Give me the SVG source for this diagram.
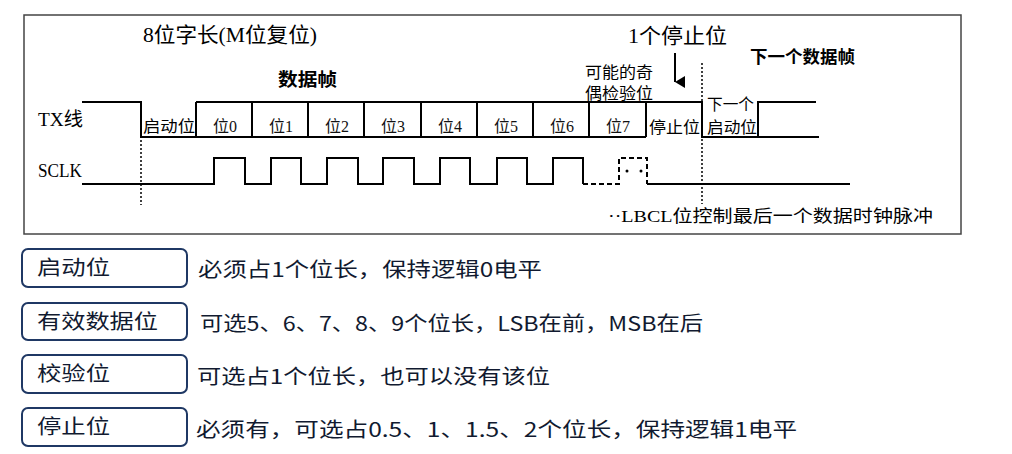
<svg xmlns="http://www.w3.org/2000/svg" width="1012" height="454" viewBox="0 0 1012 454">
<style>
.sig{fill:none;stroke:#000;stroke-width:2}
.dash{fill:none;stroke:#000;stroke-width:2;stroke-dasharray:5,3}
.dot{fill:none;stroke:#000;stroke-width:1.5;stroke-dasharray:2,2}
.t{font-family:"Liberation Serif","Noto Sans CJK SC",serif;fill:#000}
.b{font-weight:bold}
.lb{fill:#fff;stroke:#1f3864;stroke-width:2}
.lt{font-family:"Noto Sans CJK SC","Liberation Sans",sans-serif;font-size:20px;fill:#111a30}
.bit{font-family:"Liberation Serif","Noto Sans CJK SC",serif;font-size:16px;text-anchor:middle;fill:#111}
</style>
<defs>
<marker id="ah" markerWidth="12" markerHeight="10" refX="6" refY="10" orient="auto" markerUnits="userSpaceOnUse"><path d="M0,0 L12,0 L6,10 Z" fill="#000"/></marker>
</defs>
<rect id="frame" x="24" y="15" width="937" height="219" fill="#fff" stroke="#444" stroke-width="1.5"/>
<g id="titles">
<text class="t" x="143" y="42" font-size="21" textLength="174" lengthAdjust="spacingAndGlyphs">8位字长(M位复位)</text>
<text class="t b" x="278" y="86" font-size="18" textLength="59" lengthAdjust="spacingAndGlyphs">数据帧</text>
<text class="t" x="628" y="43" font-size="21" textLength="99" lengthAdjust="spacingAndGlyphs">1个停止位</text>
<text class="t b" x="750" y="63" font-size="17" textLength="105" lengthAdjust="spacingAndGlyphs">下一个数据帧</text>
<text class="t" x="585" y="78" font-size="16" textLength="68" lengthAdjust="spacingAndGlyphs">可能的奇</text>
<text class="t" x="585" y="99" font-size="16" textLength="68" lengthAdjust="spacingAndGlyphs">偶检验位</text>
<text class="t" x="38" y="126" font-size="19" textLength="45" lengthAdjust="spacingAndGlyphs">TX线</text>
<text class="t" x="38" y="177" font-size="18" textLength="44" lengthAdjust="spacingAndGlyphs">SCLK</text>
<text class="t" x="608" y="222" font-size="17" textLength="325" lengthAdjust="spacingAndGlyphs">··LBCL位控制最后一个数据时钟脉冲</text>
</g>
<g id="tx">
<path class="sig" d="M82,102 H141 V137 H646 M196,102 H702 V137 H819 M758,137 V102 H816"/>
<path class="sig" d="M196,102 V137 M252,102 V137 M308,102 V137 M364,102 V137 M421,102 V137 M477,102 V137 M533,102 V137 M589,102 V137 M646,102 V137"/>
<text class="t" x="143" y="132" font-size="16" textLength="52" lengthAdjust="spacingAndGlyphs">启动位</text>
<text class="bit" x="225" y="132">位0</text>
<text class="bit" x="281" y="132">位1</text>
<text class="bit" x="337" y="132">位2</text>
<text class="bit" x="393" y="132">位3</text>
<text class="bit" x="450" y="132">位4</text>
<text class="bit" x="506" y="132">位5</text>
<text class="bit" x="562" y="132">位6</text>
<text class="bit" x="618" y="132">位7</text>
<text class="t" x="649" y="133" font-size="16" textLength="51" lengthAdjust="spacingAndGlyphs">停止位</text>
<text class="t" x="707" y="110" font-size="16" textLength="47" lengthAdjust="spacingAndGlyphs">下一个</text>
<text class="t" x="707" y="133" font-size="16" textLength="50" lengthAdjust="spacingAndGlyphs">启动位</text>
</g>
<g id="sclk">
<path class="sig" d="M82,184 H214 V158 H245 V184 H271 V158 H301 V184 H327 V158 H358 V184 H383 V158 H414 V184 H440 V158 H470 V184 H497 V158 H527 V184 H553 V158 H583 V184"/>
<path class="dash" d="M583,184 H619 V158 H647 V184"/>
<path class="sig" d="M647,184 H850"/>
<circle cx="627" cy="171" r="1.5" fill="#000"/>
<circle cx="641" cy="171" r="1.5" fill="#000"/>
</g>
<g id="connectors">
<line class="dot" x1="141" y1="140" x2="141" y2="205"/>
<line class="dot" x1="702" y1="63" x2="702" y2="204"/>
<line x1="675" y1="53" x2="675" y2="82" stroke="#000" stroke-width="2" marker-end="url(#ah)"/>
</g>
<g id="legend-start">
<rect class="lb" x="22" y="249" width="165" height="38" rx="6"/>
<text class="lt" x="37" y="275" textLength="73" lengthAdjust="spacingAndGlyphs">启动位</text>
<text class="lt" x="198" y="277" textLength="344" lengthAdjust="spacingAndGlyphs">必须占1个位长，保持逻辑0电平</text>
</g>
<g id="legend-data">
<rect class="lb" x="22" y="303" width="165" height="37" rx="6"/>
<text class="lt" x="37" y="329" textLength="121" lengthAdjust="spacingAndGlyphs">有效数据位</text>
<text class="lt" x="200" y="331" textLength="503" lengthAdjust="spacingAndGlyphs">可选5、6、7、8、9个位长，LSB在前，MSB在后</text>
</g>
<g id="legend-parity">
<rect class="lb" x="22" y="355" width="165" height="38" rx="6"/>
<text class="lt" x="37" y="381" textLength="73" lengthAdjust="spacingAndGlyphs">校验位</text>
<text class="lt" x="197" y="384" textLength="353" lengthAdjust="spacingAndGlyphs">可选占1个位长，也可以没有该位</text>
</g>
<g id="legend-stop">
<rect class="lb" x="22" y="408" width="165" height="38" rx="6"/>
<text class="lt" x="37" y="434" textLength="73" lengthAdjust="spacingAndGlyphs">停止位</text>
<text class="lt" x="196" y="437" textLength="601" lengthAdjust="spacingAndGlyphs">必须有，可选占0.5、1、1.5、2个位长，保持逻辑1电平</text>
</g>
</svg>
